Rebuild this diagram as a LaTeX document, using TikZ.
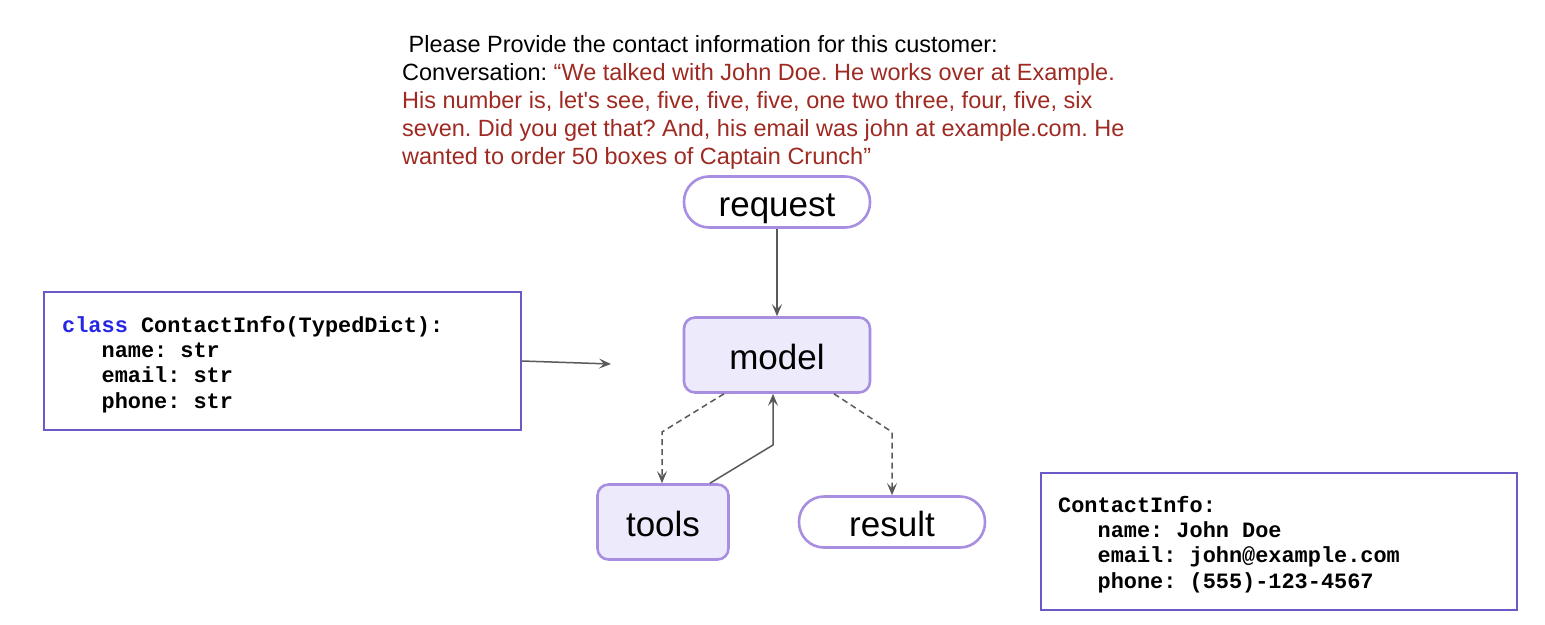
\documentclass[tikz,border=0pt]{standalone}
\usepackage{fontspec}
\setmainfont{Liberation Sans}
\setmonofont{Liberation Mono}
\usetikzlibrary{arrows.meta}
\frenchspacing
\definecolor{nodeborder}{HTML}{A88EE0}
\definecolor{nodefill}{HTML}{EDEAFB}
\definecolor{boxborder}{HTML}{6C58C6}
\definecolor{convred}{HTML}{9E2A22}
\definecolor{arrowgray}{HTML}{595959}
\definecolor{kwblue}{HTML}{2626E6}
\tikzset{
  nodelabel/.style={font=\fontsize{35}{35}\selectfont, text height=28pt, text depth=0pt},
  stadium/.style={draw=nodeborder, line width=2.6pt, fill=white, rounded corners=25pt,
    minimum width=186pt, minimum height=51pt, inner sep=0pt, nodelabel},
  procbox/.style={draw=nodeborder, line width=2.6pt, fill=nodefill, rounded corners=11pt,
    inner sep=0pt, nodelabel},
  codebox/.style={draw=boxborder, line width=1.4pt, fill=white, inner sep=0pt},
  conn/.style={draw=arrowgray, line width=1.5pt, -{Stealth[length=12pt,width=10pt,inset=5pt]}},
  dconn/.style={conn, dash pattern=on 6pt off 4pt},
  promptline/.style={anchor=base west, inner sep=0pt, font=\fontsize{23.5}{28}\selectfont},
  codeline/.style={anchor=base west, inner sep=0pt, font=\ttfamily\bfseries\fontsize{21.9}{25}\selectfont},
}
\begin{document}
\begin{tikzpicture}[x=1pt,y=-1pt]
\useasboundingbox (0,0) rectangle (1545,624);

% prompt text
\node[promptline] (t1) at (402,52) {\ Please Provide the contact information for this customer:};
\node[promptline] (t2) at (402,80) {Conversation: \textcolor{convred}{“We talked with John Doe. He works over at Example.}};
\node[promptline, text=convred] (t3) at (402,108) {His number is, let\textquotesingle s see, five, five, five, one two three, four, five, six};
\node[promptline, text=convred] (t4) at (402,136) {seven. Did you get that? And, his email was john at example.com. He};
\node[promptline, text=convred] (t5) at (402,164) {wanted to order 50 boxes of Captain Crunch”};

% graph nodes
\node[stadium] (request) at (777,202) {request};
\node[procbox, minimum width=186pt, minimum height=75pt] (model) at (777,355) {model};
\node[procbox, minimum width=131pt, minimum height=75pt] (tools) at (663,522) {tools};
\node[stadium] (result) at (892,522) {result};

% code boxes
\node[codebox, minimum width=477pt, minimum height=138pt] (schema) at (282.5,361) {};
\node[codeline] (s1) at (62,332) {\textcolor{kwblue}{class} ContactInfo(TypedDict):};
\node[codeline] (s2) at (62,357) {\ \ \ name: str};
\node[codeline] (s3) at (62,382) {\ \ \ email: str};
\node[codeline] (s4) at (62,408) {\ \ \ phone: str};

\node[codebox, minimum width=476pt, minimum height=137pt] (output) at (1279,541.5) {};
\node[codeline] (o1) at (1058,512) {ContactInfo:};
\node[codeline] (o2) at (1058,537) {\ \ \ name: John Doe};
\node[codeline] (o3) at (1058,562) {\ \ \ email: john@example.com};
\node[codeline] (o4) at (1058,588) {\ \ \ phone: (555)-123-4567};

% connectors
\coordinate (schemaend) at (611,364);
\draw[conn] (schema.east) -- (schemaend);
\draw[conn] (request.south) -- (model.north);
\draw[dconn] (model.south -| 724,0) -- (662,432) -- (tools.north -| 662,0);
\draw[conn] (tools.north -| 710,0) -- (773,445) -- (model.south -| 773,0);
\draw[dconn] (model.south -| 834,0) -- (892,432) -- (result.north);
\end{tikzpicture}
\end{document}
